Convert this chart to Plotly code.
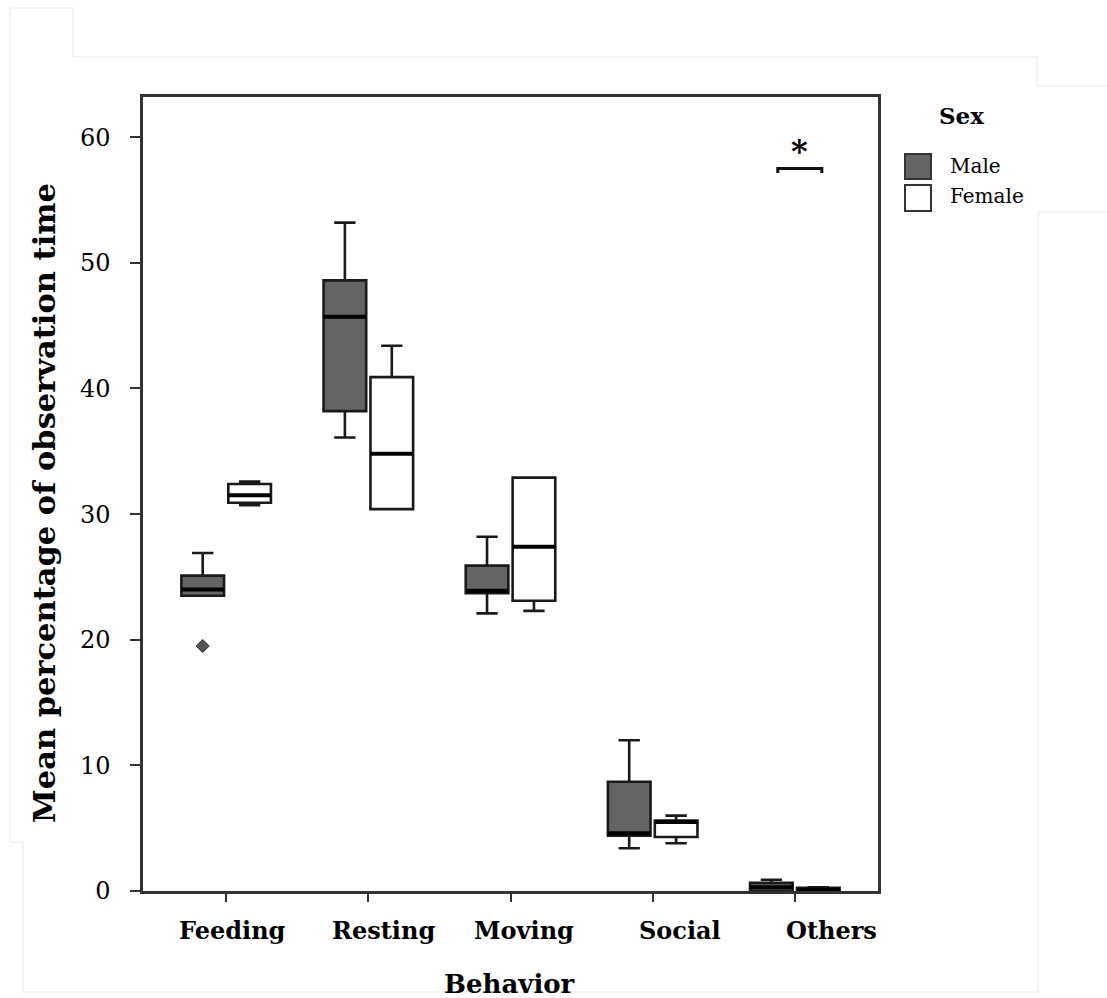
import plotly.graph_objects as go

# ---------------- data ----------------
categories = ["Feeding", "Resting", "Moving", "Social", "Others"]

male_lower = [23.5, 36.1, 22.1, 3.4, 0.0]
male_q1 = [23.5, 38.2, 23.7, 4.4, 0.0]
male_median = [24.0, 45.7, 23.9, 4.6, 0.3]
male_q3 = [25.1, 48.6, 25.9, 8.7, 0.65]
male_upper = [26.9, 53.2, 28.2, 12.0, 0.9]

female_lower = [30.7, 30.4, 22.3, 3.8, 0.0]
female_q1 = [30.9, 30.4, 23.1, 4.3, 0.0]
female_median = [31.5, 34.8, 27.4, 5.5, 0.1]
female_q3 = [32.4, 40.9, 32.9, 5.6, 0.25]
female_upper = [32.6, 43.4, 32.9, 6.0, 0.3]

male_outlier_category = ["Feeding"]
male_outlier_value = [19.5]

sig_category = "Others"
sig_value = 57.5
sig_text = "*"

y_ticks = [0, 10, 20, 30, 40, 50, 60]

# ---------------- layout constants ----------------
W, H = 1107, 998
ML, MR, MT, MB = 143, 229, 97, 107
PW = W - ML - MR
PH = H - MT - MB
X0_PIX = ML
Y0_PIX = H - MB

def pxx(x):
    return (x - X0_PIX) / PW

def pxy(y):
    return (Y0_PIX - y) / PH

OFF = 0.165
BW = 0.30
SERIF = "DejaVu Serif"
MALE_FILL = "#646464"
EDGE = "#1a1a1a"

idx = list(range(len(categories)))
male_x = [i - OFF for i in idx]
female_x = [i + OFF for i in idx]

fig = go.Figure()

fig.add_trace(go.Box(
    name="Male", x=male_x, q1=male_q1, median=male_median, q3=male_q3,
    lowerfence=male_lower, upperfence=male_upper, width=BW,
    fillcolor=MALE_FILL, line=dict(color=EDGE, width=2.6),
    whiskerwidth=0.5, boxpoints=False, showlegend=False, hoverinfo="skip",
))
fig.add_trace(go.Box(
    name="Female", x=female_x, q1=female_q1, median=female_median, q3=female_q3,
    lowerfence=female_lower, upperfence=female_upper, width=BW,
    fillcolor="white", line=dict(color=EDGE, width=2.6),
    whiskerwidth=0.5, boxpoints=False, showlegend=False, hoverinfo="skip",
))

# outlier
fig.add_trace(go.Scatter(
    x=[categories.index(c) - OFF for c in male_outlier_category], y=male_outlier_value,
    mode="markers", marker=dict(symbol="diamond", size=10, color="#555555",
                                line=dict(color="#2a2a2a", width=1)),
    showlegend=False, hoverinfo="skip",
))

shapes = []
# thicker median lines
for xs, meds in ((male_x, male_median), (female_x, female_median)):
    for xc, m in zip(xs, meds):
        shapes.append(dict(type="line", xref="x", yref="y", x0=xc - BW / 2, x1=xc + BW / 2,
                           y0=m, y1=m, line=dict(color="black", width=4), layer="above"))

# significance bracket
si = categories.index(sig_category)
bx0, bx1 = si - 0.12, si + 0.19
shapes.append(dict(type="path", xref="x", yref="y",
                   path=f"M {bx0},{sig_value - 0.35} L {bx0},{sig_value} L {bx1},{sig_value} L {bx1},{sig_value - 0.35}",
                   line=dict(color="#111111", width=3)))

# faint background edges of the original composite image
faint = dict(color="#e8e8e8", width=1)
def seg(x0, y0, x1, y1):
    shapes.append(dict(type="line", xref="paper", yref="paper",
                       x0=pxx(x0), y0=pxy(y0), x1=pxx(x1), y1=pxy(y1), line=faint, layer="below"))
seg(10, 8, 73, 8)
seg(73, 8, 73, 57)
seg(73, 57, 1037, 57)
seg(1037, 57, 1037, 86)
seg(1037, 86, 1107, 86)
seg(10, 8, 10, 842)
seg(10, 842, 23, 842)
seg(23, 842, 23, 992)
seg(23, 992, 1038, 992)
seg(1038, 992, 1038, 212)
seg(1038, 212, 1107, 212)

# manual legend squares
shapes.append(dict(type="rect", xref="paper", yref="paper",
                   x0=pxx(905), x1=pxx(931), y0=pxy(154), y1=pxy(179),
                   fillcolor=MALE_FILL, line=dict(color="#333333", width=2)))
shapes.append(dict(type="rect", xref="paper", yref="paper",
                   x0=pxx(905), x1=pxx(931), y0=pxy(185), y1=pxy(211),
                   fillcolor="white", line=dict(color="#333333", width=2)))

annotations = []
# category labels (slightly shifted as in the source image)
label_shift = [6, 15, 13, 27, 37]
for i, (c, s) in enumerate(zip(categories, label_shift)):
    annotations.append(dict(x=i, y=0, xref="x", yref="paper", text=c, showarrow=False,
                            xanchor="center", yanchor="middle", xshift=s, yshift=-39,
                            font=dict(family=SERIF, size=24, color="black", weight="bold")))
# axis titles
annotations.append(dict(x=pxx(509), y=pxy(984), xref="paper", yref="paper", text="Behavior",
                        showarrow=False, xanchor="center", yanchor="middle",
                        font=dict(family=SERIF, size=26, color="black", weight="bold")))
annotations.append(dict(x=pxx(44), y=pxy(503), xref="paper", yref="paper",
                        text="Mean percentage of observation time", textangle=-90,
                        showarrow=False, xanchor="center", yanchor="middle",
                        font=dict(family=SERIF, size=30.5, color="black", weight="bold")))
# significance star
annotations.append(dict(x=(bx0 + bx1) / 2, y=sig_value, xref="x", yref="y", text=sig_text,
                        showarrow=False, xanchor="center", yanchor="bottom", yshift=-3,
                        font=dict(family=SERIF, size=32, color="black", weight="bold")))
# legend text
annotations.append(dict(x=pxx(937), y=pxy(116), xref="paper", yref="paper", text="Sex",
                        showarrow=False, xanchor="left", yanchor="middle",
                        font=dict(family=SERIF, size=23, color="black", weight="bold")))
annotations.append(dict(x=pxx(948), y=pxy(166), xref="paper", yref="paper", text="Male",
                        showarrow=False, xanchor="left", yanchor="middle",
                        font=dict(family=SERIF, size=20, color="black")))
annotations.append(dict(x=pxx(948), y=pxy(196), xref="paper", yref="paper", text="Female",
                        showarrow=False, xanchor="left", yanchor="middle",
                        font=dict(family=SERIF, size=20, color="black")))

fig.update_layout(
    width=W, height=H,
    margin=dict(l=ML, r=MR, t=MT, b=MB, pad=0),
    paper_bgcolor="white", plot_bgcolor="white",
    shapes=shapes, annotations=annotations,
    showlegend=False,
    xaxis=dict(range=[-0.585, 4.585], tickvals=idx, ticktext=[""] * len(idx),
               ticks="outside", ticklen=8, tickwidth=2, tickcolor="#333333",
               showline=True, linecolor="#333333", linewidth=2.5, mirror=True,
               showgrid=False, zeroline=False, fixedrange=True),
    yaxis=dict(range=[0, 63.2], tickvals=y_ticks, ticks="outside", ticklen=10,
               tickwidth=2, tickcolor="#333333", ticklabelstandoff=15,
               tickfont=dict(family=SERIF, size=24, color="black"),
               showline=True, linecolor="#333333", linewidth=2.5, mirror=True,
               showgrid=False, zeroline=False, fixedrange=True),
)

fig.write_html("out.html", config={"displayModeBar": False})
